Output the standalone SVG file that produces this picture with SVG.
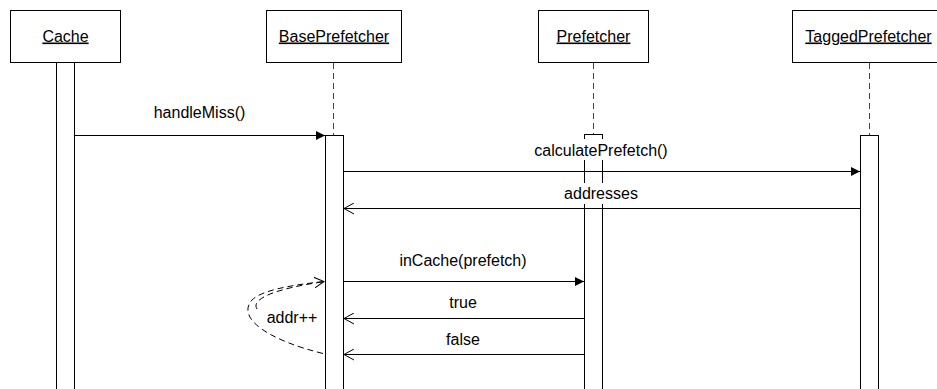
<svg xmlns="http://www.w3.org/2000/svg" width="937" height="389" viewBox="0 0 937 389">
  <style>
    .box { fill: #ffffff; stroke: #000000; stroke-width: 1; }
    .bar { fill: #ffffff; stroke: #000000; stroke-width: 1; }
    .life { fill: none; stroke: #444444; stroke-width: 1; stroke-dasharray: 6 4; }
    .msg { fill: none; stroke: #000000; stroke-width: 1; }
    .loop { fill: none; stroke: #000000; stroke-width: 1; stroke-dasharray: 6 4; }
    .title { font-family: "Liberation Sans", Arial, sans-serif; font-size: 16px; fill: #000000; text-anchor: middle; text-decoration: underline; }
    .label { font-family: "Liberation Sans", Arial, sans-serif; font-size: 16px; fill: #000000; text-anchor: middle; }
    .lblbg { fill: #ffffff; stroke: none; }
  </style>
  <defs>
    <marker id="call" markerUnits="userSpaceOnUse" markerWidth="10" markerHeight="10" refX="9" refY="5" orient="auto">
      <path d="M0,0.5 L9,5 L0,9.5 Z" fill="#000000"/>
    </marker>
    <marker id="reply" markerUnits="userSpaceOnUse" markerWidth="12" markerHeight="12" refX="10" refY="6" orient="auto">
      <path d="M0,0.5 L10,6 L0,11.5" fill="none" stroke="#000000" stroke-width="1"/>
    </marker>
  </defs>

  <rect width="937" height="389" fill="#ffffff"/>

  <!-- lifelines: heads, dashed lines, activation bars -->
  <g id="cache">
    <rect class="box" x="10.5" y="10.5" width="110" height="52"/>
    <text class="title" x="65.5" y="41.5">Cache</text>
    <rect class="bar" x="56.5" y="62.5" width="18" height="340"/>
  </g>
  <g id="base-prefetcher">
    <rect class="box" x="266.5" y="10.5" width="135" height="52"/>
    <text class="title" x="334" y="41.5">BasePrefetcher</text>
    <line class="life" x1="333.5" y1="63" x2="333.5" y2="135"/>
    <rect class="bar" x="325.5" y="135.5" width="18" height="270"/>
  </g>
  <g id="prefetcher">
    <rect class="box" x="538.5" y="10.5" width="110" height="52"/>
    <text class="title" x="593.5" y="41.5">Prefetcher</text>
    <line class="life" x1="593.5" y1="63" x2="593.5" y2="134"/>
    <rect class="bar" x="584.5" y="134.5" width="18" height="270"/>
  </g>
  <g id="tagged-prefetcher">
    <rect class="box" x="792.5" y="10.5" width="154" height="52"/>
    <text class="title" x="868.5" y="41.5">TaggedPrefetcher</text>
    <line class="life" x1="869.5" y1="63" x2="869.5" y2="135"/>
    <rect class="bar" x="860.5" y="135.5" width="18" height="270"/>
  </g>

  <!-- messages -->
  <g id="messages">
    <line class="msg" x1="74.5" y1="135.5" x2="325" y2="135.5" marker-end="url(#call)"/>
    <text class="label" x="199.5" y="118">handleMiss()</text>

    <rect class="lblbg" x="530" y="139" width="142" height="21"/>
    <text class="label" x="601" y="155.5">calculatePrefetch()</text>
    <line class="msg" x1="343.5" y1="171.5" x2="860" y2="171.5" marker-end="url(#call)"/>

    <rect class="lblbg" x="563" y="183" width="76" height="21"/>
    <text class="label" x="601" y="199">addresses</text>
    <line class="msg" x1="860" y1="208.5" x2="344" y2="208.5" marker-end="url(#reply)"/>

    <text class="label" x="463" y="266">inCache(prefetch)</text>
    <line class="msg" x1="343.5" y1="281.5" x2="584" y2="281.5" marker-end="url(#call)"/>

    <text class="label" x="463" y="308">true</text>
    <line class="msg" x1="584" y1="318.5" x2="344" y2="318.5" marker-end="url(#reply)"/>

    <text class="label" x="463" y="345">false</text>
    <line class="msg" x1="584" y1="354.5" x2="344" y2="354.5" marker-end="url(#reply)"/>

    <!-- self call on BasePrefetcher -->
    <path class="loop" d="M323,353.5 C268,340 236,318 252,300 C262,290 292,285 324,281.5" marker-end="url(#reply)"/>
    <path class="loop" d="M257,309 C250,298 280,288 322,282"/>
    <text class="label" x="292" y="323">addr++</text>
  </g>
</svg>
